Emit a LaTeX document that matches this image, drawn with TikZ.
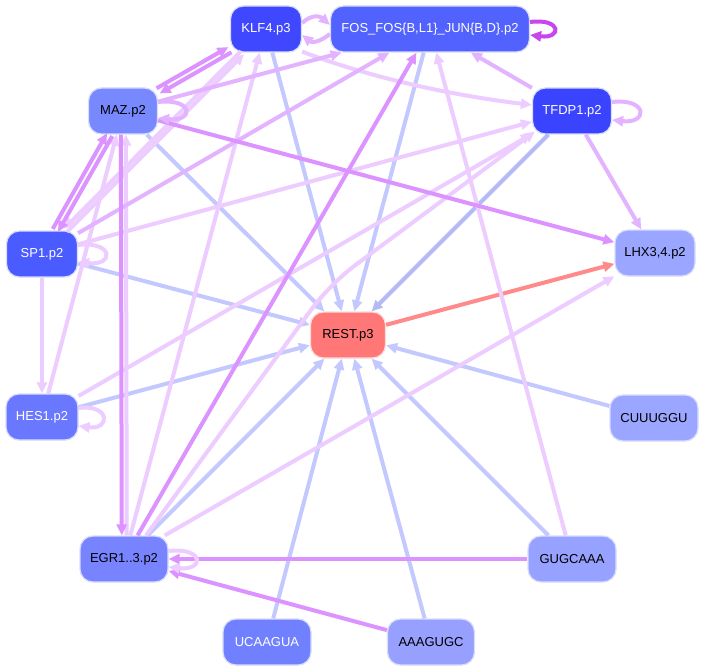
\documentclass[tikz,border=0pt]{standalone}
\usepackage{fontspec}
\setmainfont{Liberation Sans}
\usetikzlibrary{arrows.meta,calc}
\definecolor{cBlue}{HTML}{C3C8FF}
\definecolor{cBlueD}{HTML}{B3BAF5}
\definecolor{cLight}{HTML}{EDCCFF}
\definecolor{cMid}{HTML}{E3B3FF}
\definecolor{cMed}{HTML}{DC92FF}
\definecolor{cDark}{HTML}{C846F0}
\definecolor{cRed}{HTML}{FF8A8A}
\definecolor{cKLF}{HTML}{4048FF}
\definecolor{cFOS}{HTML}{5262FF}
\definecolor{cMAZ}{HTML}{7888FF}
\definecolor{cTF}{HTML}{3A44FF}
\definecolor{cSP}{HTML}{4A5CFF}
\definecolor{cLHX}{HTML}{9AA6FF}
\definecolor{cREST}{HTML}{FF7777}
\definecolor{cHES}{HTML}{6A78FF}
\definecolor{cCU}{HTML}{9AA6FF}
\definecolor{cEGR}{HTML}{7884FF}
\definecolor{cGUG}{HTML}{97A1FF}
\definecolor{cUCA}{HTML}{7080FF}
\definecolor{cAAA}{HTML}{979FFF}
\definecolor{cBorder}{HTML}{D8DCFF}
\definecolor{cBorderR}{HTML}{FFDCDC}
\begin{document}
\begin{tikzpicture}[x=1pt,y=-1pt,
  nd/.style={rounded corners=13pt, draw=cBorder, line width=1.2pt, minimum height=46pt,
    inner sep=0pt, font=\fontsize{13}{15}\selectfont, text=black},
  wt/.style={text=white},
  edg/.style={line width=4pt, -{Triangle[length=11pt,width=10pt]}},
  nudge/.style={transform canvas={shift={#1}}}]
\fill[white] (0,0) rectangle (706,671);
\useasboundingbox (0,0) rectangle (706,671);

% nodes
\node[nd, fill=cKLF, wt, minimum width=71pt] (klf) at (266,29) {KLF4.p3};
\node[nd, fill=cFOS, wt, minimum width=199pt] (fos) at (430,29) {FOS\_FOS\{B,L1\}\_JUN\{B,D\}.p2};
\node[nd, fill=cMAZ, minimum width=69pt] (maz) at (123,111) {MAZ.p2};
\node[nd, fill=cTF, wt, minimum width=79pt] (tfdp) at (572,111) {TFDP1.p2};
\node[nd, fill=cSP, wt, minimum width=71pt] (sp1) at (42,254) {SP1.p2};
\node[nd, fill=cLHX, minimum width=80pt] (lhx) at (655,253) {LHX3,4.p2};
\node[nd, fill=cREST, draw=cBorderR, minimum width=75pt] (rest) at (348,335) {REST.p3};
\node[nd, fill=cHES, wt, minimum width=72pt] (hes) at (42,417) {HES1.p2};
\node[nd, fill=cCU, minimum width=88pt] (cuu) at (654,418) {CUUUGGU};
\node[nd, fill=cEGR, minimum width=88pt] (egr) at (124,559) {EGR1..3.p2};
\node[nd, fill=cGUG, minimum width=88pt] (gug) at (572,559) {GUGCAAA};
\node[nd, fill=cUCA, wt, minimum width=88pt] (uca) at (267,642) {UCAAGUA};
\node[nd, fill=cAAA, minimum width=87pt] (aaa) at (431,642) {AAAGUGC};

% edges into REST
\draw[edg,cBlue] (klf) -- (rest);
\draw[edg,cBlue] (fos) -- (rest);
\draw[edg,cBlue] (maz) -- (rest);
\draw[edg,cBlueD] (tfdp) -- (rest);
\draw[edg,cBlue] (sp1) -- (rest);
\draw[edg,cBlue] (hes) -- (rest);
\draw[edg,cBlue] (egr) -- (rest);
\draw[edg,cBlue] (uca) -- (rest);
\draw[edg,cBlue] (aaa) -- (rest);
\draw[edg,cBlue] (gug) -- (rest);
\draw[edg,cBlue] (cuu) -- (rest);
\draw[edg,cRed] (rest) -- (lhx);

% light edges
\draw[edg,cLight] (gug) -- (fos);
\draw[edg,cLight] (egr) -- (klf);
\draw[edg,cLight] (egr) -- (lhx);
\draw[edg,cLight] (hes) -- (tfdp);
\draw[edg,cLight] (hes) -- (maz);
\draw[edg,cLight] (sp1) -- (tfdp);
\draw[edg,cLight] (sp1) -- (hes);
\draw[edg,cLight,nudge={(1.5pt,-1.5pt)}] (sp1) -- (klf);
\draw[edg,cLight,nudge={(-1.5pt,1.5pt)}] (klf) -- (sp1);
\draw[edg,cLight,nudge={(2.8pt,0pt)}] (egr) -- (maz);
\draw[edg,cLight] ($(klf.south east)+(0,-1)$) .. controls +(68,26) and +(-82,-10) .. ($(tfdp.west)+(0,-6)$);
\coordinate (bendA) at (330,284);
\draw[edg,cLight,rounded corners=30pt] ($(egr.north)+(22,0)$) -- (bendA) -- ($(tfdp.south west)+(3,-3)$);

% mid edges
\draw[edg,cMid] (tfdp) -- (fos);
\draw[edg,cMid] (tfdp) -- (lhx);
\draw[edg,cMid] (maz) -- (fos);
\draw[edg,cMid] (sp1) -- (fos);
\draw[edg,cMid] ($(klf.east)+(0,-6)$) .. controls +(10,-9) and +(-10,-9) .. ($(fos.west)+(0,-4)$);
\draw[edg,cMid] ($(fos.west)+(0,5)$) .. controls +(-10,8) and +(10,8) .. ($(klf.east)+(0,6)$);

% medium edges
\draw[edg,cMed] (maz) -- (lhx);
\draw[edg,cMed] (egr) -- (fos);
\draw[edg,cMed] (gug) -- (egr);
\draw[edg,cMed] (aaa) -- (egr);
\draw[edg,cMed,nudge={(-2.2pt,0pt)}] (maz) -- (egr);
\draw[edg,cMed,nudge={(-2.6pt,1.5pt)}] (sp1) -- (maz);
\draw[edg,cMed,nudge={(2.6pt,-1.5pt)}] (maz) -- (sp1);
\draw[edg,cMed,nudge={(-1.5pt,2.6pt)}] (maz) -- (klf);
\draw[edg,cMed,nudge={(1.5pt,-2.6pt)}] (klf) -- (maz);

% self loops
\draw[edg,cDark] ($(fos.east)+(0,-7)$) .. controls +(32,-4) and +(32,4) .. ($(fos.east)+(0,6)$);
\draw[edg,cMid] ($(maz.east)+(0,-9)$) .. controls +(36,-4) and +(36,4) .. ($(maz.east)+(0,7)$);
\draw[edg,cMid] ($(tfdp.east)+(0,-9)$) .. controls +(36,-4) and +(36,4) .. ($(tfdp.east)+(0,9)$);
\draw[edg,cLight] ($(sp1.east)+(0,-9)$) .. controls +(36,-4) and +(36,4) .. ($(sp1.east)+(0,8)$);
\draw[edg,cLight] ($(hes.east)+(0,-9)$) .. controls +(32,-4) and +(32,4) .. ($(hes.east)+(0,9)$);
\draw[edg,cLight] ($(egr.east)+(0,-8)$) .. controls +(36,-4) and +(36,4) .. ($(egr.east)+(0,8)$);
\end{tikzpicture}
\end{document}
